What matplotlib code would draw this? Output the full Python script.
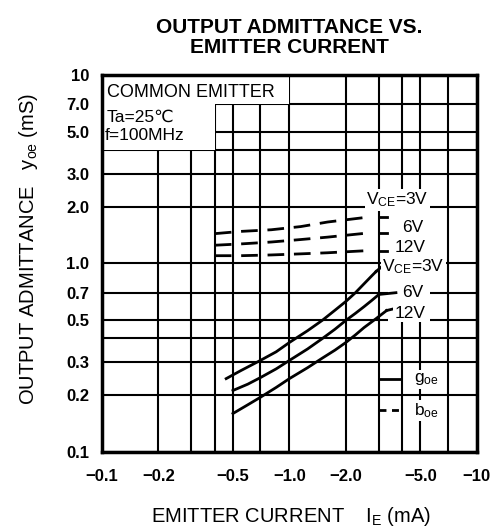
import numpy as np
import matplotlib
matplotlib.use("Agg")
import matplotlib.pyplot as plt
from matplotlib.patches import Rectangle

plt.rcParams['font.family'] = ['Liberation Sans', 'DejaVu Sans']
plt.rcParams['mathtext.fontset'] = 'custom'
plt.rcParams['mathtext.rm'] = 'Liberation Sans'
plt.rcParams['mathtext.it'] = 'Liberation Sans'
plt.rcParams['lines.scale_dashes'] = False

# g_oe (solid), |IE| in mA -> mS
goe_3v_x = [0.46, 0.55, 0.7, 0.85, 1.0, 1.25, 1.5, 1.75, 2.0, 2.25, 2.5, 2.75, 2.9]
goe_3v_y = [0.245, 0.27, 0.306, 0.34, 0.381, 0.44, 0.50, 0.565, 0.629, 0.70, 0.78, 0.86, 0.907]
goe_6v_x = [0.5, 0.6, 0.7, 0.85, 1.0, 1.25, 1.5, 1.75, 2.0, 2.25, 2.5, 2.75, 3.0]
goe_6v_y = [0.212, 0.229, 0.248, 0.276, 0.306, 0.352, 0.40, 0.448, 0.499, 0.544, 0.59, 0.637, 0.685]
goe_12v_x = [0.5, 0.6, 0.7, 0.85, 1.0, 1.25, 1.5, 1.75, 2.0, 2.25, 2.5, 2.9, 3.3]
goe_12v_y = [0.16, 0.178, 0.195, 0.22, 0.245, 0.28, 0.315, 0.347, 0.381, 0.418, 0.457, 0.51, 0.563]

# b_oe (dashed)
boe_x = [0.4, 0.55, 0.8, 1.15, 1.6, 2.6]
boe_3v_y = [1.44, 1.48, 1.51, 1.57, 1.66, 1.76]
boe_6v_y = [1.25, 1.27, 1.30, 1.34, 1.38, 1.45]
boe_12v_y = [1.10, 1.10, 1.11, 1.125, 1.14, 1.17]

xticks = [0.1, 0.2, 0.5, 1.0, 2.0, 5.0, 10]
xticklabels = ['\u22120.1', '\u22120.2', '\u22120.5', '\u22121.0', '\u22122.0', '\u22125.0', '\u221210']
yticks = [0.1, 0.2, 0.3, 0.5, 0.7, 1.0, 2.0, 3.0, 5.0, 7.0, 10]
yticklabels = ['0.1', '0.2', '0.3', '0.5', '0.7', '1.0', '2.0', '3.0', '5.0', '7.0', '10']

fig = plt.figure(figsize=(5.02, 5.29), dpi=100)
ax = fig.add_axes([0.203, 0.1456, 0.747, 0.7126])
ax.set_xscale('log')
ax.set_yscale('log')
ax.set_xlim(0.1, 10)
ax.set_ylim(0.1, 10)

ax.set_xticks(xticks)
ax.set_xticklabels(xticklabels, fontsize=12, fontweight='bold')
ax.set_xticks([0.3, 0.4, 0.7, 3, 4, 7], minor=True)
ax.set_yticks(yticks)
ax.set_yticklabels(yticklabels, fontsize=12, fontweight='bold')
ax.set_yticks([0.4, 4], minor=True)
ax.xaxis.set_minor_formatter(plt.NullFormatter())
ax.yaxis.set_minor_formatter(plt.NullFormatter())
ax.tick_params(which='both', length=0)
ax.tick_params(axis='x', pad=12)
ax.tick_params(axis='y', pad=9)
ax.set_axisbelow(True)
ax.grid(which='both', color='black', lw=1.5)
for s in ax.spines.values():
    s.set_linewidth(2.5)

# blank areas behind the condition text and the curve labels
white = dict(facecolor='white', edgecolor='none', zorder=1)
ax.add_patch(Rectangle((0.1, 7), 0.9, 3, **white))
ax.add_patch(Rectangle((0.1, 4), 0.3, 3, **white))
ax.add_patch(Rectangle((3.35, 0.49), 2.25, 1.96, **white))
ax.text(0.106, 8.1, 'COMMON EMITTER', fontsize=13, va='center', ha='left')
ax.text(0.106, 5.95, 'Ta=25\u2103', fontsize=12.5, va='center', ha='left')
ax.text(0.103, 4.8, 'f=100MHz', fontsize=12.5, va='center', ha='left')

lw = 2
ax.plot(goe_3v_x, goe_3v_y, color='black', lw=lw, zorder=3)
ax.plot(goe_6v_x, goe_6v_y, color='black', lw=lw, zorder=3)
ax.plot(goe_12v_x, goe_12v_y, color='black', lw=lw, zorder=3)
dash = (0, (12, 7))
ax.plot(boe_x, boe_3v_y, color='black', lw=lw, ls=dash, zorder=3)
ax.plot(boe_x, boe_6v_y, color='black', lw=lw, ls=dash, zorder=3)
ax.plot(boe_x, boe_12v_y, color='black', lw=lw, ls=dash, zorder=3)

# leaders and labels
bb = dict(facecolor='white', edgecolor='none', pad=1.0)
for yv in [boe_3v_y[-1], boe_6v_y[-1], boe_12v_y[-1]]:
    ax.plot([3.0, 3.3], [yv, yv], color='black', lw=lw, zorder=3)
ax.text(2.57, 2.17, 'V$_{\\mathrm{CE}}$=3V', fontsize=12.5, ha='left', va='center', bbox=bb, zorder=4)
ax.text(4.0, 1.56, '6V', fontsize=12.5, ha='left', va='center', bbox=bb, zorder=4)
ax.text(3.63, 1.21, '12V', fontsize=12.5, ha='left', va='center', bbox=bb, zorder=4)

ax.plot([goe_3v_x[-1], 3.1], [goe_3v_y[-1], 0.96], color='black', lw=lw, zorder=3)
ax.plot([goe_6v_x[-1], 3.7], [goe_6v_y[-1], 0.70], color='black', lw=lw, zorder=3)
ax.plot([goe_12v_x[-1], 3.6], [goe_12v_y[-1], 0.575], color='black', lw=lw, zorder=3)
ax.text(3.12, 0.958, 'V$_{\\mathrm{CE}}$=3V', fontsize=12.5, ha='left', va='center', bbox=bb, zorder=4)
ax.text(4.0, 0.70, '6V', fontsize=12.5, ha='left', va='center', bbox=bb, zorder=4)
ax.text(3.63, 0.546, '12V', fontsize=12.5, ha='left', va='center', bbox=bb, zorder=4)

# legend
ax.plot([3.0, 3.95], [0.243, 0.243], color='black', lw=lw, zorder=3)
ax.plot([3.0, 3.95], [0.166, 0.166], color='black', lw=lw, ls=(0, (5, 4)), zorder=3)
ax.text(4.6, 0.243, 'g$_{\\mathrm{oe}}$', fontsize=12.5, ha='left', va='center', bbox=bb, zorder=4)
ax.text(4.6, 0.166, 'b$_{\\mathrm{oe}}$', fontsize=12.5, ha='left', va='center', bbox=bb, zorder=4)

fig.text(0.576, 0.929, 'OUTPUT ADMITTANCE VS.\nEMITTER CURRENT', fontsize=15,
         fontweight='bold', ha='center', va='center', linespacing=1.05)
fig.text(0.056, 0.529, 'OUTPUT ADMITTANCE   y$_{\\mathrm{oe}}$ (mS)', fontsize=14.5,
         rotation=90, ha='center', va='center')
fig.text(0.58, 0.023, 'EMITTER CURRENT    I$_{\\mathrm{E}}$ (mA)', fontsize=14.5,
         ha='center', va='center')

fig.savefig('out.png', dpi=100)
